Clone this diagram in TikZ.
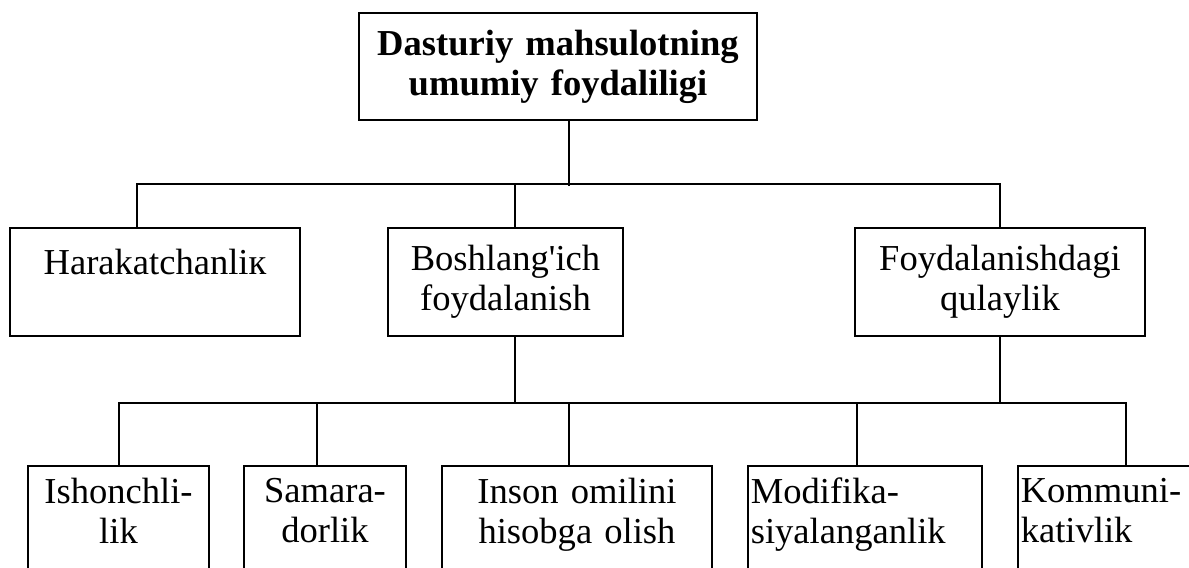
\documentclass[tikz,border=0pt]{standalone}
\usepackage{fontspec}
\setmainfont{Liberation Serif}[Ligatures=TeXOff]

\begin{document}
\begin{tikzpicture}[
    box/.style={rectangle, draw, line width=1.3pt, align=center, inner xsep=2pt, font=\fontsize{26}{28.5}\selectfont},
    midbox/.style={box, minimum height=2.7cm},
    lowbox/.style={box, anchor=north, inner ysep=0.3cm, text depth=2.5cm},
    link/.style={line width=1.3pt}
]
    \useasboundingbox (0,0) rectangle (29.725,-14.2);
    \clip (0,0) rectangle (29.725,-14.2);

    \node[box, text width=9.81cm, minimum height=2.675cm, font=\fontsize{26}{28.5}\selectfont\bfseries] (total) at (13.95,-1.6625) {Dasturiy mahsulotning\\umumiy foydaliligi};

    \node[midbox, text width=7.11cm] (harakat) at (3.875,-7.05) {Harakatchanliк\\~};
    \node[midbox, text width=5.735cm] (boshl) at (12.6375,-7.05) {Boshlang'ich\\foydalanish};
    \node[midbox, text width=7.11cm] (foyd) at (25,-7.05) {Foydalanishdagi\\qulaylik};

    \node[lowbox, text width=4.385cm] (ishon) at (2.9625,-11.625) {Ishonchli-\\lik};
    \node[lowbox, text width=3.91cm] (samara) at (8.125,-11.625) {Samara-\\dorlik};
    \node[lowbox, text width=6.61cm] (inson) at (14.425,-11.625) {Inson omilini\\hisobga olish};
    \node[lowbox, text width=5.71cm, align=left] (modif) at (21.625,-11.625) {Modifika-\\siyalanganlik};
    \node[lowbox, text width=5.91cm, align=left] (kommu) at (28.475,-11.625) {Kommuni-\\kativlik};

    \draw[link] ([xshift=0.275cm]total.south) -- ++(0,-1.625);
    \draw[link] ([xshift=-0.45cm]harakat.north) -- ++(0,1.075) -| (foyd.north);
    \draw[link] ([xshift=0.2375cm]boshl.north) -- ++(0,1.075);

    \draw[link] ([xshift=0.2375cm]boshl.south) -- ++(0,-1.675);
    \draw[link] (foyd.south) -- ++(0,-1.675);
    \draw[link] ([xshift=0.0125cm]ishon.north) -- ++(0,1.55) -| ([xshift=-0.325cm]kommu.north);
    \draw[link] ([xshift=-0.2cm]samara.north) -- ++(0,1.55);
    \draw[link] ([xshift=-0.2cm]inson.north) -- ++(0,1.55);
    \draw[link] ([xshift=-0.2cm]modif.north) -- ++(0,1.55);
\end{tikzpicture}
\end{document}
